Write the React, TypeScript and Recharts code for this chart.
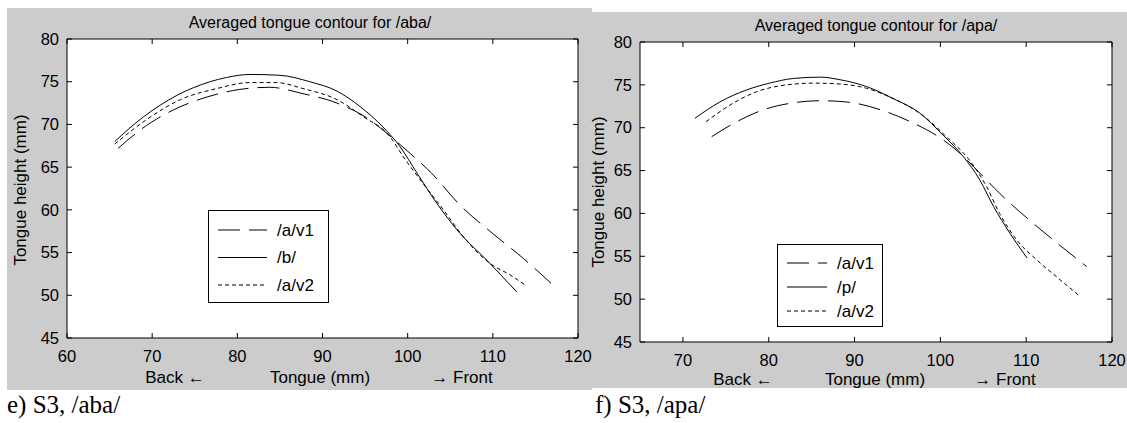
import React from 'react';
import { LineChart, Line, XAxis, YAxis, CartesianGrid, Legend } from 'recharts';

// ---------- Data: S3 /aba/ ----------
const abaV1X = [66.0, 68.8, 72.5, 76.4, 80.3, 83.8, 87.7, 91.7, 95.6, 97.5, 100.3, 102.8, 106.1, 109.9, 113.6, 117.5];
const abaV1Y = [67.2, 69.5, 71.7, 73.2, 74.1, 74.35, 73.6, 72.5, 70.5, 69.0, 66.6, 64.3, 60.6, 57.3, 54.3, 50.8];
const abaBX = [65.6, 69.0, 72.9, 76.8, 78.75, 81.5, 85.0, 88.5, 91.7, 94.4, 97.1, 99.1, 101.1, 103.4, 106.1, 109.3, 112.8];
const abaBY = [68.0, 70.9, 73.4, 75.0, 75.5, 75.85, 75.75, 75.0, 73.9, 72.1, 69.7, 67.4, 64.3, 60.8, 57.3, 54.1, 50.4];
const abaV2X = [65.6, 69.4, 73.3, 77.6, 81.5, 84.6, 87.7, 91.7, 94.8, 97.9, 99.5, 101.8, 104.2, 106.5, 109.7, 112.0, 113.8];
const abaV2Y = [67.7, 70.6, 72.9, 74.2, 74.9, 74.9, 74.2, 72.9, 70.9, 68.6, 66.2, 63.1, 60.0, 56.9, 53.7, 52.4, 51.2];

// ---------- Data: S3 /apa/ ----------
const apaV1X = [73.35, 75.9, 79.4, 82.5, 86.0, 89.1, 93.0, 96.5, 100.0, 102.3, 104.6, 106.9, 110.4, 113.9, 117.05];
const apaV1Y = [68.95, 70.5, 72.1, 72.85, 73.15, 73.0, 72.1, 70.7, 68.8, 67.0, 64.7, 62.35, 59.2, 56.3, 53.8];
const apaPX = [71.4, 74.3, 77.4, 80.1, 82.9, 86.0, 88.3, 91.4, 94.5, 97.6, 100.3, 102.7, 104.6, 106.2, 108.1, 110.1];
const apaPY = [71.1, 73.0, 74.4, 75.2, 75.75, 75.9, 75.6, 74.8, 73.4, 71.7, 69.15, 66.6, 63.9, 60.8, 57.7, 54.8];
const apaV2X = [72.7, 75.5, 78.6, 82.1, 85.2, 88.3, 91.4, 94.5, 97.6, 100.7, 103.4, 105.4, 106.9, 108.9, 111.2, 113.55, 116.3];
const apaV2Y = [70.7, 72.65, 74.2, 75.0, 75.2, 75.1, 74.6, 73.4, 71.7, 68.95, 66.2, 63.1, 60.0, 56.9, 54.6, 52.6, 50.3];

// ---------- Axes / labels ----------
const xTicksAba = [60, 70, 80, 90, 100, 110, 120];
const xTicksApa = [70, 80, 90, 100, 110, 120];
const xDomainAba = [60, 120];
const xDomainApa = [65, 120];
const yTicks = [45, 50, 55, 60, 65, 70, 75, 80];
const yDomain = [45, 80];
const namesAba = ['/a/v1', '/b/', '/a/v2'];
const namesApa = ['/a/v1', '/p/', '/a/v2'];
const titleAba = 'Averaged tongue contour for /aba/';
const titleApa = 'Averaged tongue contour for /apa/';
const yLabel = 'Tongue height (mm)';
const xLabelParts = ['Back \u2190', 'Tongue (mm)', '\u2192 Front'];
const captionAba = 'e) S3, /aba/';
const captionApa = 'f) S3, /apa/';

const pts = (xs: number[], ys: number[]) => xs.map((x, i) => ({ x, y: ys[i] }));

const seriesAba = [pts(abaV1X, abaV1Y), pts(abaBX, abaBY), pts(abaV2X, abaV2Y)];
const seriesApa = [pts(apaV1X, apaV1Y), pts(apaPX, apaPY), pts(apaV2X, apaV2Y)];

// ---------- Styles ----------
const FONT = '"Liberation Sans", Arial, Helvetica, sans-serif';
const SERIF = '"Liberation Serif", "Times New Roman", serif';
const GRAY = '#cccccc';
const DASHES: (string | undefined)[] = ['22 9', undefined, '4 3'];
const TICK_LEN = 5;
const X_MARGIN = 18;
const Y_MARGIN = 8;
const TICK_FS = 16.5;
const LABEL_FS = 17;

const BottomTick = (props: any) => {
  const { x, y, payload } = props;
  const ay = y - X_MARGIN;
  return (
    <g>
      <line x1={x} x2={x} y1={ay} y2={ay - TICK_LEN} stroke="#000" strokeWidth={1} />
      <text x={x} y={y} dy="0.35em" textAnchor="middle" fontFamily={FONT} fontSize={TICK_FS} fill="#000">
        {payload.value}
      </text>
    </g>
  );
};
const TopTick = (props: any) => {
  const { x, y } = props;
  return <line x1={x} x2={x} y1={y} y2={y + TICK_LEN} stroke="#000" strokeWidth={1} />;
};
const LeftTick = (props: any) => {
  const { x, y, payload } = props;
  const ax = x + Y_MARGIN;
  return (
    <g>
      <line x1={ax} x2={ax + TICK_LEN} y1={y} y2={y} stroke="#000" strokeWidth={1} />
      <text x={x} y={y} dy="0.35em" textAnchor="end" fontFamily={FONT} fontSize={TICK_FS} fill="#000">
        {payload.value}
      </text>
    </g>
  );
};
const RightTick = (props: any) => {
  const { x, y } = props;
  return <line x1={x} x2={x - TICK_LEN} y1={y} y2={y} stroke="#000" strokeWidth={1} />;
};

type LegendCfg = { left: number; top: number; w: number; h: number; rows: number[]; l0: number; l1: number; tx: number };

const makeLegend = (names: string[], c: LegendCfg) => () => (
  <svg width={c.w} height={c.h} style={{ display: 'block' }}>
    <rect x={0.5} y={0.5} width={c.w - 1} height={c.h - 1} fill="#fff" stroke="#000" strokeWidth={1} />
    {names.map((n, i) => (
      <g key={n}>
        <line x1={c.l0} x2={c.l1} y1={c.rows[i]} y2={c.rows[i]} stroke="#000" strokeWidth={1} strokeDasharray={DASHES[i]} />
        <text x={c.tx} y={c.rows[i]} dy="0.35em" fontFamily={FONT} fontSize={LABEL_FS} fill="#000">{n}</text>
      </g>
    ))}
  </svg>
);

type PanelProps = {
  left: number;
  width: number;
  height: number;
  margin: { top: number; right: number; bottom: number; left: number };
  yAxisWidth: number;
  xDomain: number[];
  xTicks: number[];
  series: { x: number; y: number }[][];
  names: string[];
  legend: LegendCfg;
};

function Panel(p: PanelProps) {
  return (
    <div style={{ position: 'absolute', left: p.left, top: 0 }}>
      <LineChart width={p.width} height={p.height} margin={p.margin}>
        <CartesianGrid fill="#fff" stroke="none" horizontal={false} vertical={false} />
        <XAxis
          xAxisId="b"
          dataKey="x"
          type="number"
          domain={p.xDomain}
          ticks={p.xTicks}
          allowDataOverflow
          height={30}
          tickSize={0}
          tickMargin={X_MARGIN}
          axisLine={{ stroke: '#000' }}
          tickLine={false}
          tick={<BottomTick />}
        />
        <XAxis
          xAxisId="t"
          orientation="top"
          dataKey="x"
          type="number"
          domain={p.xDomain}
          ticks={p.xTicks}
          allowDataOverflow
          height={1}
          tickSize={0}
          tickMargin={0}
          axisLine={{ stroke: '#000' }}
          tickLine={false}
          tick={<TopTick />}
        />
        <YAxis
          yAxisId="l"
          type="number"
          domain={yDomain}
          ticks={yTicks}
          allowDataOverflow
          width={p.yAxisWidth}
          tickSize={0}
          tickMargin={Y_MARGIN}
          axisLine={{ stroke: '#000' }}
          tickLine={false}
          tick={<LeftTick />}
        />
        <YAxis
          yAxisId="r"
          orientation="right"
          type="number"
          domain={yDomain}
          ticks={yTicks}
          allowDataOverflow
          width={1}
          tickSize={0}
          tickMargin={0}
          axisLine={{ stroke: '#000' }}
          tickLine={false}
          tick={<RightTick />}
        />
        {p.series.map((d, i) => (
          <Line
            key={p.names[i]}
            xAxisId="b"
            yAxisId="l"
            data={d}
            dataKey="y"
            name={p.names[i]}
            type="monotoneX"
            stroke="#000"
            strokeWidth={1}
            strokeDasharray={DASHES[i]}
            dot={false}
            activeDot={false}
            isAnimationActive={false}
          />
        ))}
        <Legend
          layout="horizontal"
          verticalAlign="middle"
          align="center"
          content={makeLegend(p.names, p.legend)}
          wrapperStyle={{ left: p.legend.left, top: p.legend.top, width: p.legend.w, height: p.legend.h }}
        />
      </LineChart>
    </div>
  );
}

export default function App() {
  const txt = { fontFamily: FONT, fill: '#000' } as const;
  return (
    <div style={{ position: 'absolute', left: 0, top: 0, width: 1127, height: 423, background: '#fff', overflow: 'hidden' }}>
      <div style={{ position: 'absolute', left: 7, top: 8, width: 585, height: 382, background: GRAY }} />
      <div style={{ position: 'absolute', left: 592, top: 12, width: 535, height: 376, background: GRAY }} />
      <Panel
        left={0}
        width={592}
        height={390}
        margin={{ top: 38, right: 13, bottom: 22, left: 17 }}
        yAxisWidth={50}
        xDomain={xDomainAba}
        xTicks={xTicksAba}
        series={seriesAba}
        names={namesAba}
        legend={{ left: 208, top: 210, w: 121, h: 93, rows: [20, 47.5, 75], l0: 10, l1: 59, tx: 69 }}
      />
      <Panel
        left={592}
        width={535}
        height={390}
        margin={{ top: 41, right: 14, bottom: 18, left: 8 }}
        yAxisWidth={40}
        xDomain={xDomainApa}
        xTicks={xTicksApa}
        series={seriesApa}
        names={namesApa}
        legend={{ left: 185, top: 244, w: 106, h: 83, rows: [19, 43, 67], l0: 10, l1: 50, tx: 60 }}
      />
      <svg width={1127} height={423} style={{ position: 'absolute', left: 0, top: 0, pointerEvents: 'none' }}>
        <text x={310} y={22} dy="0.35em" textAnchor="middle" fontSize={16} {...txt}>{titleAba}</text>
        <text x={876} y={25} dy="0.35em" textAnchor="middle" fontSize={16} {...txt}>{titleApa}</text>
        <text transform="translate(20,190) rotate(-90)" dy="0.35em" textAnchor="middle" fontSize={LABEL_FS} {...txt}>{yLabel}</text>
        <text transform="translate(598,192) rotate(-90)" dy="0.35em" textAnchor="middle" fontSize={LABEL_FS} {...txt}>{yLabel}</text>
        <text x={175} y={377} dy="0.35em" textAnchor="middle" fontSize={LABEL_FS} {...txt}>{xLabelParts[0]}</text>
        <text x={320} y={377} dy="0.35em" textAnchor="middle" fontSize={LABEL_FS} {...txt}>{xLabelParts[1]}</text>
        <text x={462} y={377} dy="0.35em" textAnchor="middle" fontSize={LABEL_FS} {...txt}>{xLabelParts[2]}</text>
        <text x={743} y={379} dy="0.35em" textAnchor="middle" fontSize={LABEL_FS} {...txt}>{xLabelParts[0]}</text>
        <text x={875} y={379} dy="0.35em" textAnchor="middle" fontSize={LABEL_FS} {...txt}>{xLabelParts[1]}</text>
        <text x={1005} y={379} dy="0.35em" textAnchor="middle" fontSize={LABEL_FS} {...txt}>{xLabelParts[2]}</text>
        <text x={7} y={413} fontSize={25} fontFamily={SERIF} fill="#000">{captionAba}</text>
        <text x={595} y={413} fontSize={25} fontFamily={SERIF} fill="#000">{captionApa}</text>
      </svg>
    </div>
  );
}
